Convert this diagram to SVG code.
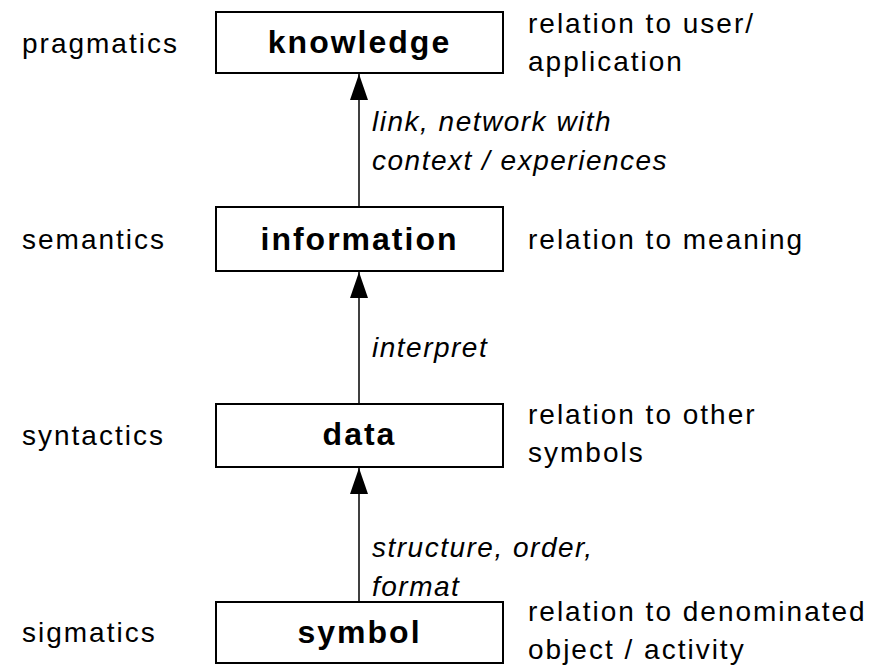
<svg xmlns="http://www.w3.org/2000/svg" width="883" height="666" viewBox="0 0 883 666">
<style>
.box{fill:#fff;stroke:#000;stroke-width:2}
.title{font-family:"Liberation Sans",Arial,sans-serif;font-weight:bold;font-size:32px;letter-spacing:2px;text-anchor:middle;fill:#000}
.lbl{font-family:"Liberation Sans",Arial,sans-serif;font-size:28px;letter-spacing:2px;fill:#000}
.it{font-family:"Liberation Sans",Arial,sans-serif;font-size:28px;font-style:italic;letter-spacing:1.5px;fill:#000}
.conn{stroke:#000;stroke-width:1.5;fill:none;marker-end:url(#ah)}
</style>
<defs>
<marker id="ah" markerUnits="userSpaceOnUse" markerWidth="26" markerHeight="18" viewBox="0 0 26 18" refX="26" refY="9" orient="auto">
<path d="M0,0 L26,9 L0,18 z" fill="#000"/>
</marker>
</defs>
<rect width="883" height="666" fill="#fff"/>
<g id="connectors">
<line class="conn" x1="359" y1="207" x2="359" y2="74"/>
<line class="conn" x1="359" y1="404" x2="359" y2="272"/>
<line class="conn" x1="359" y1="602" x2="359" y2="468"/>
</g>
<g id="knowledge">
<rect class="box" x="216" y="12" width="287" height="61"/>
<text class="title" x="359.5" y="53">knowledge</text>
</g>
<g id="information">
<rect class="box" x="216" y="207" width="287" height="64"/>
<text class="title" x="359.5" y="250">information</text>
</g>
<g id="data">
<rect class="box" x="216" y="404" width="287" height="63"/>
<text class="title" x="359.5" y="445">data</text>
</g>
<g id="symbol">
<rect class="box" x="216" y="602" width="287" height="61"/>
<text class="title" x="359.5" y="643">symbol</text>
</g>
<g id="levels">
<text class="lbl" x="22" y="53">pragmatics</text>
<text class="lbl" x="22" y="249">semantics</text>
<text class="lbl" x="22" y="445">syntactics</text>
<text class="lbl" x="22" y="642">sigmatics</text>
</g>
<g id="relations">
<text class="lbl" x="528" y="33">relation to user/</text>
<text class="lbl" x="528" y="71">application</text>
<text class="lbl" x="528" y="249">relation to meaning</text>
<text class="lbl" x="528" y="424">relation to other</text>
<text class="lbl" x="528" y="462">symbols</text>
<text class="lbl" x="528" y="621">relation to denominated</text>
<text class="lbl" x="528" y="659">object /  activity</text>
</g>
<g id="edge-labels">
<text class="it" x="372" y="131">link, network with</text>
<text class="it" x="372" y="170">context /  experiences</text>
<text class="it" x="372" y="357">interpret</text>
<text class="it" x="372" y="557">structure, order,</text>
<text class="it" x="372" y="596">format</text>
</g>
</svg>
